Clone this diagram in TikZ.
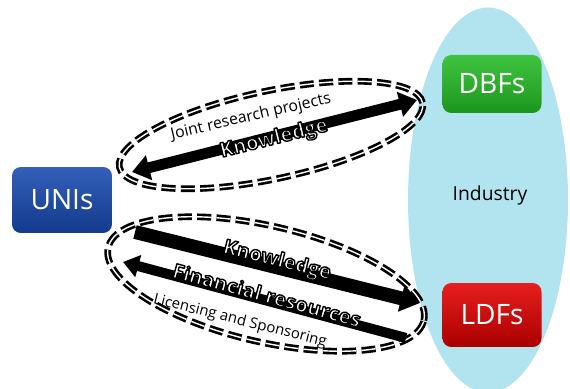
\documentclass[tikz,border=0pt]{standalone}
\usepackage{fontspec}
\setmainfont{Open Sans}
\usetikzlibrary{arrows.meta,shapes.geometric}

\definecolor{skyfill}{RGB}{178,228,240}
\definecolor{uniTop}{RGB}{52,96,186}
\definecolor{uniBot}{RGB}{18,58,140}
\definecolor{dbfTop}{RGB}{64,196,64}
\definecolor{dbfBot}{RGB}{28,150,30}
\definecolor{ldfTop}{RGB}{232,30,30}
\definecolor{ldfBot}{RGB}{170,0,0}

% white letters with a dark rim (fill + stroke render mode)
\newcommand{\rimtext}[1]{%
  \special{pdf:literal direct 0 G 0.8 w 1 j 2 Tr}#1\special{pdf:literal direct 0 Tr}}

\begin{document}
\begin{tikzpicture}[
    x=0.02cm, y=0.02cm,
    actorbox/.style={rounded corners=5pt, minimum width=1.98cm, inner sep=0pt,
        text=white, font=\fontsize{16}{18}\selectfont},
    linkring/.style={ellipse, draw, inner sep=0pt, line width=1.5pt, double,
        double distance=0.8pt, dash pattern=on 8pt off 3pt},
    flowlabel/.style={text=white, font=\bfseries\fontsize{11.5}{14}\selectfont, inner sep=0pt},
    sidelabel/.style={font=\fontsize{9}{11}\selectfont, inner sep=0pt}
]
    \useasboundingbox (0,0) rectangle (570,388);

    % industry side
    \node[ellipse, fill=skyfill, minimum width=3.2cm, minimum height=7.7cm] (industry) at (488,188) {};
    \node[font=\fontsize{11}{13}\selectfont] (indlabel) at (490,193) {Industry};
    \node[actorbox, minimum height=1.16cm, top color=dbfTop, bottom color=dbfBot] (dbf) at (492,304) {DBFs};
    \node[actorbox, minimum height=1.28cm, top color=ldfTop, bottom color=ldfBot] (ldf) at (492,73) {LDFs};

    % university side
    \node[actorbox, minimum width=2cm, minimum height=1.32cm, top color=uniTop, bottom color=uniBot] (uni) at (62,188) {UNIs};

    % channel rings
    \node[linkring, rotate=12, minimum width=6.2cm, minimum height=1.76cm] (upring) at (271,253) {};
    \node[linkring, rotate=-13, minimum width=6.48cm, minimum height=2.32cm] (lowring) at (266,104) {};

    % arrow ends
    \coordinate (upL) at (132,216);
    \coordinate (upR) at (417,288);
    \coordinate (knowA) at (135,156);
    \coordinate (knowB) at (420,85);
    \coordinate (finA) at (406,50);
    \coordinate (finB) at (123,126);

    \draw[line width=6.2pt, {Triangle[length=10pt,width=14pt]}-{Triangle[length=10pt,width=14pt]}] (upL) -- (upR);
    \draw[line width=7.9pt, -{Triangle[length=11pt,width=15pt]}] (knowA) -- (knowB);
    \draw[line width=5.7pt, -{Triangle[length=9pt,width=12.5pt]}] (finA) -- (finB);

    % labels
    \node[sidelabel, rotate=13] (joint) at (251,271) {Joint research projects};
    \node[flowlabel, rotate=14] (knowup) at (274,249) {\rimtext{Knowledge}};
    \node[flowlabel, rotate=-14] (knowlow) at (277,127) {\rimtext{Knowledge}};
    \node[flowlabel, rotate=-15] (finance) at (267,93) {\rimtext{Financial resources}};
    \node[sidelabel, font=\fontsize{8.5}{10}\selectfont, rotate=-14] (licence) at (240,67) {Licensing and Sponsoring};
\end{tikzpicture}
\end{document}
